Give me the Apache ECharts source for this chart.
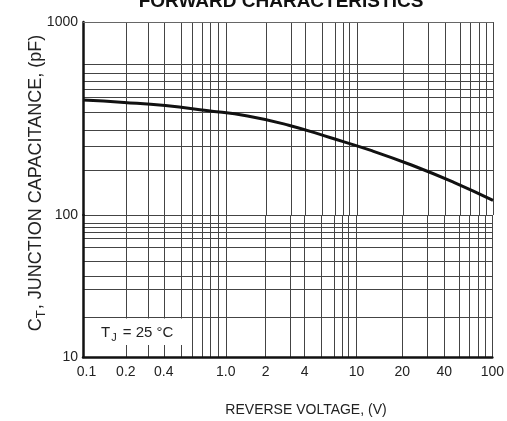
<!DOCTYPE html>
<html>
<head>
<meta charset="utf-8">
<script src="https://cdn.jsdelivr.net/npm/echarts@6/dist/echarts.min.js"></script>
<style>html,body{margin:0;padding:0;background:#fff;}#c{width:507px;height:421px;}</style>
</head>
<body>
<div id="c"></div>
<script>
// ---- data ----
const curveX = [0.1, 0.2, 0.4, 0.8, 1.6, 3.2, 6.4, 12.8, 25.6, 51.2, 100];
const curveY = [394, 383, 369, 348, 326, 292, 252, 216, 181, 148, 119];
const xGridVals = [0.206, 0.299, 0.391, 0.521, 0.627, 0.743, 0.85, 0.972, 1.113, 2.183, 3.326, 4.21, 5.61, 6.98, 7.99, 8.84, 10.11, 21.9, 33.4, 44.5, 57.3, 67.9, 78.9, 88.9, 100];
const xLabelVals = [0.106, 0.206, 0.391, 1.113, 2.183, 4.21, 10.11, 21.9, 44.5, 100];
const xLabelText = ['0.1', '0.2', '0.4', '1.0', '2', '4', '10', '20', '40', '100'];
const yTopGridVals = [1000, 606, 544, 494, 450, 409, 342, 276, 228, 171, 100];
const yBottomGridVals = [88, 82, 76, 69, 59, 47, 37, 30, 19];
const yTopLabelVals = [1000];
const yBottomLabelVals = [10, 100];

const FONT = 'Liberation Sans, Arial, Helvetica, sans-serif';
const gridLine = { show: true, lineStyle: { color: '#444', width: 1, type: 'solid' } };

function nearestLabel(v) {
  let best = 0, bd = Infinity;
  for (let i = 0; i < xLabelVals.length; i++) {
    const d = Math.abs(Math.log10(v) - Math.log10(xLabelVals[i]));
    if (d < bd) { bd = d; best = i; }
  }
  return xLabelText[best];
}

const chart = echarts.init(document.getElementById('c'), null, { renderer: 'canvas' });
const option = {
  animation: false,
  backgroundColor: '#fff',
  grid: [
    { left: 83, right: 14, top: 22, height: 193 },
    { left: 83, right: 14, top: 215, height: 142 }
  ],
  xAxis: [
    {
      gridIndex: 0, type: 'log', logBase: 10, min: 0.1, max: 100, position: 'top',
      axisLine: { show: true, lineStyle: { color: '#666', width: 1 } },
      axisTick: { show: false, customValues: xGridVals },
      axisLabel: { show: false },
      splitLine: gridLine
    },
    {
      gridIndex: 1, type: 'log', logBase: 10, min: 0.1, max: 100, position: 'bottom',
      axisLine: { show: true, onZero: false, lineStyle: { color: '#111', width: 2.5 } },
      axisTick: { show: false, customValues: xGridVals },
      axisLabel: {
        show: true, customValues: xLabelVals, margin: 8,
        fontFamily: FONT, fontSize: 14, color: '#222',
        formatter: function (v) { return nearestLabel(v); }
      },
      splitLine: gridLine
    }
  ],
  yAxis: [
    {
      gridIndex: 0, type: 'log', logBase: 10, min: 100, max: 1000,
      axisLine: { show: true, lineStyle: { color: '#111', width: 2.5 } },
      axisTick: { show: false, customValues: yTopGridVals },
      axisLabel: {
        show: true, customValues: yTopLabelVals, margin: 5,
        fontFamily: FONT, fontSize: 14, color: '#222',
        formatter: function (v) { return String(Math.round(v)); }
      },
      splitLine: gridLine
    },
    {
      gridIndex: 1, type: 'log', logBase: 10, min: 10, max: 100,
      axisLine: { show: true, lineStyle: { color: '#111', width: 2.5 } },
      axisTick: { show: false, customValues: yBottomGridVals },
      axisLabel: {
        show: true, customValues: yBottomLabelVals, margin: 5,
        fontFamily: FONT, fontSize: 14, color: '#222',
        formatter: function (v) { return String(Math.round(v)); }
      },
      splitLine: gridLine
    }
  ],
  series: [
    {
      type: 'line', xAxisIndex: 0, yAxisIndex: 0,
      data: curveX.map((x, i) => [x, curveY[i]]),
      smooth: true, symbol: 'none', silent: true, z: 10,
      lineStyle: { color: '#111', width: 3 }
    },
    {
      type: 'line', xAxisIndex: 1, yAxisIndex: 1, data: [], symbol: 'none', silent: true
    }
  ],
  graphic: [
    {
      type: 'text', x: 281, y: 1.5, z: 100, silent: true,
      style: { text: 'FORWARD CHARACTERISTICS', fontFamily: FONT, fontWeight: 'bold', fontSize: 19, fill: '#111', align: 'center', verticalAlign: 'middle' }
    },
    {
      type: 'text', x: 306, y: 410, z: 100, silent: true,
      style: { text: 'REVERSE VOLTAGE, (V)', fontFamily: FONT, fontSize: 14, fill: '#222', align: 'center', verticalAlign: 'middle' }
    },
    {
      type: 'text', x: 36, y: 183, rotation: Math.PI / 2, z: 100, silent: true,
      style: {
        text: '{a|C}{s|T}{a|, JUNCTION CAPACITANCE, (pF)}',
        align: 'center', verticalAlign: 'middle',
        rich: {
          a: { fontFamily: FONT, fontSize: 18, fill: '#222', lineHeight: 24 },
          s: { fontFamily: FONT, fontSize: 13, fill: '#222', lineHeight: 24, verticalAlign: 'bottom', padding: [0, 1, 0, 0] }
        }
      }
    },
    {
      type: 'rect', z: 90, silent: true,
      shape: { x: 85, y: 318.5, width: 102, height: 26.5 },
      style: { fill: '#fff' }
    },
    {
      type: 'text', x: 101, y: 333, z: 100, silent: true,
      style: {
        text: '{a|T}{s|J}{a| = 25 °C}',
        align: 'left', verticalAlign: 'middle',
        rich: {
          a: { fontFamily: FONT, fontSize: 15, fill: '#222', lineHeight: 20 },
          s: { fontFamily: FONT, fontSize: 11, fill: '#222', lineHeight: 20, verticalAlign: 'bottom', padding: [0, 2, 0, 1] }
        }
      }
    }
  ]
};
chart.setOption(option);
</script>
</body>
</html>
